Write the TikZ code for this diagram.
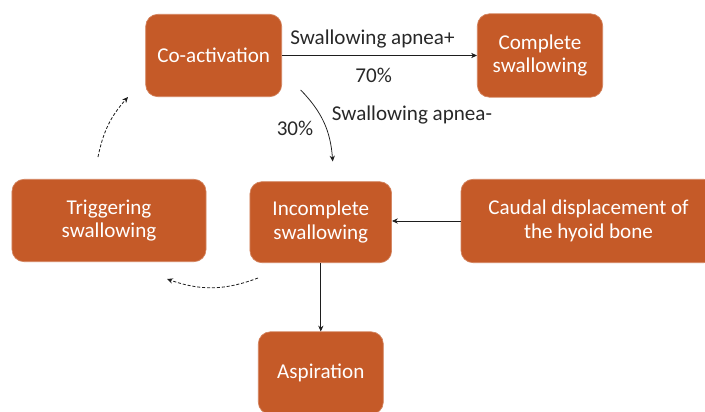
\documentclass[tikz,border=0pt]{standalone}
\usepackage{fontspec}
\setmainfont{Carlito}
\usepackage{tikz}
\usetikzlibrary{
    positioning,
    arrows.meta
}
\definecolor{boxOrange}{RGB}{197, 90, 40}
\definecolor{lineGray}{RGB}{30, 30, 30}
\definecolor{labelGray}{RGB}{40, 40, 40}

\tikzset{
    stage/.style={rectangle, rounded corners=0.36cm, fill=boxOrange,
        draw=boxOrange!75!white, line width=0.6pt, text=white, align=center,
        font=\fontsize{18}{20}\selectfont, inner sep=0pt},
    flow/.style={-{Stealth[length=5pt, width=4.5pt]}, lineGray, line width=0.65pt},
    loose/.style={-{Stealth[length=5pt, width=4.5pt]}, lineGray, line width=0.7pt,
        dash pattern=on 2.6pt off 1.6pt},
    lbl/.style={text=labelGray, font=\fontsize{18}{20}\selectfont}
}

\begin{document}
\begin{tikzpicture}[x=0.03cm, y=0.03cm]
            \useasboundingbox (0,0) rectangle (705,411);

            % boxes
            \node[stage, minimum width=4.08cm, minimum height=2.47cm] (coact) at (213.7,355.5) {Co-activation};
            \node[stage, minimum width=3.76cm, minimum height=2.5cm] (complete) at (540,355.5) {Complete\\swallowing};
            \node[stage, minimum width=5.82cm, minimum height=2.47cm] (trigger) at (109,190.5) {Triggering\\swallowing};
            \node[stage, minimum width=4.25cm, minimum height=2.43cm] (incomplete) at (320.8,188.8) {Incomplete\\swallowing};
            \node[stage, minimum width=7.65cm, minimum height=2.5cm] (caudal) at (588.5,190) {Caudal displacement of\\the hyoid bone};
            \node[stage, minimum width=3.75cm, minimum height=2.47cm] (aspiration) at (320.8,38) {Aspiration};

            % apnea+ branch
            \draw[flow] (coact) -- node[lbl, above=3pt, xshift=-6] (apneaPlus) {Swallowing apnea+}
                node[lbl, below=7pt, xshift=-5] (pctHigh) {70\%} (complete);

            % apnea- branch
            \coordinate (apneaStart) at (300.7,321);
            \coordinate (apneaEnd) at (332.7,249.5);
            \draw[flow] (apneaStart) to[bend left=20] (apneaEnd);
            \node[lbl] (pctLow) at (295,282.7) {30\%};
            \node[lbl] (apneaMinus) at (412,296) {Swallowing apnea-};

            \draw[flow] (caudal.west) -- (caudal.west -| incomplete.east);
            \draw[flow] (incomplete) -- (aspiration);

            % loop back
            \coordinate (loopA) at (258,133);
            \coordinate (loopB) at (167,132);
            \coordinate (loopC) at (98,254);
            \coordinate (loopD) at (128,314);
            \draw[loose] (loopA) to[bend left=20] (loopB);
            \draw[loose] (loopC) to[bend left=15] (loopD);
        \end{tikzpicture}
\end{document}
